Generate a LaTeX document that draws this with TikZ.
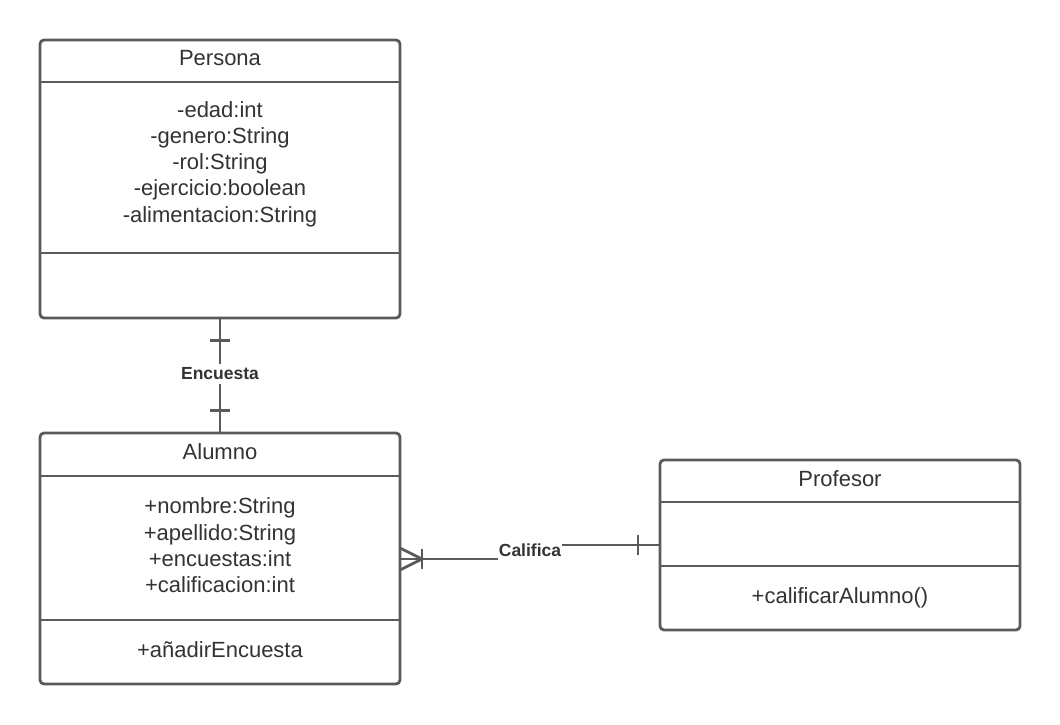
\documentclass[tikz,border=0pt]{standalone}
\usepackage{fontspec}
\setmainfont{Liberation Sans}
\usetikzlibrary{calc}
\definecolor{edge}{HTML}{5A5A5A}
\definecolor{txt}{HTML}{333333}
\begin{document}
\begin{tikzpicture}[x=1pt,y=-1pt,
  classbox/.style={draw=edge, line width=2.8pt, rounded corners=4pt, fill=white, inner sep=0pt},
  divider/.style={draw=edge, line width=2.8pt},
  conn/.style={draw=edge, line width=2.8pt},
  member/.style={text=txt, font=\fontsize{22}{26.3}\selectfont, align=center, inner sep=0pt},
  rel/.style={text=txt, font=\fontsize{17.5}{20}\selectfont\bfseries, fill=white, inner xsep=1pt, inner ysep=4pt}]
\path[use as bounding box] (0,0) rectangle (1060,725);
% Persona
\node[classbox, minimum width=360, minimum height=278] (persona) at (220,179) {};
\draw[divider] (40,82) -- (400,82);
\draw[divider] (40,253) -- (400,253);
\node[member] (pname) at (220,58) {Persona};
\node[member] (pattr) at (220,164) {-edad:int\\-genero:String\\-rol:String\\-ejercicio:boolean\\-alimentacion:String};
% Alumno
\node[classbox, minimum width=360, minimum height=251] (alumno) at (220,558.5) {};
\draw[divider] (40,476) -- (400,476);
\draw[divider] (40,620) -- (400,620);
\node[member] (aname) at (220,452) {Alumno};
\node[member] (aattr) at (220,545.5) {+nombre:String\\+apellido:String\\+encuestas:int\\+calificacion:int};
\node[member] (ameth) at (220,650) {+añadirEncuesta};
% Profesor
\node[classbox, minimum width=360, minimum height=170] (profesor) at (840,545) {};
\draw[divider] (660,502) -- (1020,502);
\draw[divider] (660,566) -- (1020,566);
\node[member] (prname) at (840,479) {Profesor};
\node[member] (prmeth) at (840,598) {+calificarAlumno()};
% Encuesta
\draw[conn] (persona.south) -- (alumno.north);
\draw[conn] ($(persona.south)+(-10,21)$) -- ($(persona.south)+(10,21)$);
\draw[conn] ($(alumno.north)+(-10,-21)$) -- ($(alumno.north)+(10,-21)$);
\node[rel] (enc) at (220,374) {Encuesta};
% Califica
\coordinate (aend) at (400,559);
\coordinate (pend) at (660,545);
\draw[conn] (aend) -- (530,559) -- (530,545) -- (pend);
\draw[conn] (400,548) -- (422,559) -- (400,570);
\draw[conn] (422,549) -- (422,569);
\draw[conn] (638,535) -- (638,555);
\node[rel] (cal) at (530,550) {Califica};
\end{tikzpicture}
\end{document}
